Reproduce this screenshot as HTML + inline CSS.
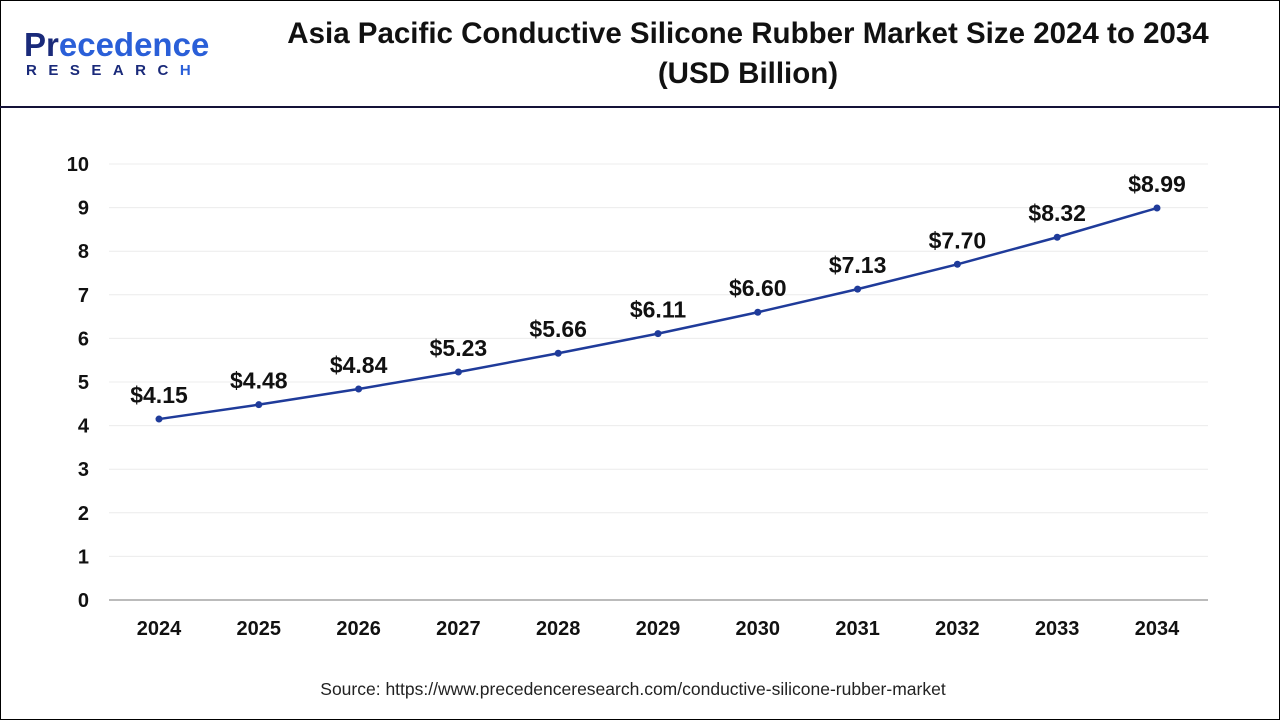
<!DOCTYPE html>
<html><head><meta charset="utf-8"><style>
body{margin:0;width:1280px;height:720px;overflow:hidden;background:#fff;font-family:"Liberation Sans",sans-serif}
#frame{position:absolute;left:0;top:0;width:1278px;height:718px;border:1px solid #000}
#hdr{position:absolute;left:0;top:106px;width:1280px;height:2px;background:#141238}
#title{position:absolute;left:248px;width:1000px;top:14px;text-align:center;font-weight:bold;font-size:29.5px;line-height:40px;color:#111}
#logo1{position:absolute;left:24px;top:26px;font-size:33px;font-weight:bold;color:#1a2a7a;letter-spacing:0px}
#logo2{position:absolute;left:26px;top:62px;font-size:15px;font-weight:bold;color:#1a2a7a;letter-spacing:11.5px}
#src{position:absolute;left:0;width:1266px;top:679px;text-align:center;font-size:17.5px;color:#222}
</style></head><body>
<div id="frame"></div>
<div id="logo1">Pr<span style="color:#2a5fd8">ecedence</span></div>
<div id="logo2">RESEARC<span style="color:#2a5fd8">H</span></div>
<div id="title">Asia Pacific Conductive Silicone Rubber Market Size 2024 to 2034<br>(USD Billion)</div>
<div id="hdr"></div>
<svg id="chart" width="1280" height="720" style="position:absolute;left:0;top:0"></svg>
<div id="src">Source: https://www.precedenceresearch.com/conductive-silicone-rubber-market</div>
<script>
const categories=["2024","2025","2026","2027","2028","2029","2030","2031","2032","2033","2034"];
const values=[4.15,4.48,4.84,5.23,5.66,6.11,6.60,7.13,7.70,8.32,8.99];
const valueLabels=["$4.15","$4.48","$4.84","$5.23","$5.66","$6.11","$6.60","$7.13","$7.70","$8.32","$8.99"];
const yTicks=[0,1,2,3,4,5,6,7,8,9,10];
const NS="http://www.w3.org/2000/svg",svg=document.getElementById('chart');
const x=i=>159+i*99.8, y=v=>600-v*43.6;
function mk(t,a){const e=document.createElementNS(NS,t);for(const k in a)e.setAttribute(k,a[k]);svg.appendChild(e);return e;}
yTicks.forEach(t=>{
 if(t>0){const g=mk('line',{x1:109,x2:1208,y1:y(t),y2:y(t),stroke:'#ececec','stroke-width':1});
 
 }
 const l=mk('text',{x:89,y:y(t)+7,'text-anchor':'end','font-size':20,'font-weight':'bold',fill:'#111'});l.textContent=t;
 
 
});
const ax=mk('line',{x1:109,x2:1208,y1:600,y2:600,stroke:'#bbb','stroke-width':2});


categories.forEach((c,i)=>{const l=mk('text',{x:x(i),y:635,'text-anchor':'middle','font-size':20,'font-weight':'bold',fill:'#111'});l.textContent=c;
 
 });
const pl=mk('polyline',{points:values.map((v,i)=>x(i)+','+y(v)).join(' '),fill:'none',stroke:'#1f3b9a','stroke-width':2.5});


values.forEach((v,i)=>{const c=mk('circle',{cx:x(i),cy:y(v),r:3.5,fill:'#1f3b9a'});
 
 
 const t=mk('text',{x:x(i),y:y(v)-16,'text-anchor':'middle','font-size':23,'font-weight':'bold',fill:'#111'});t.textContent=valueLabels[i];
 
 });
</script>
</body></html>
